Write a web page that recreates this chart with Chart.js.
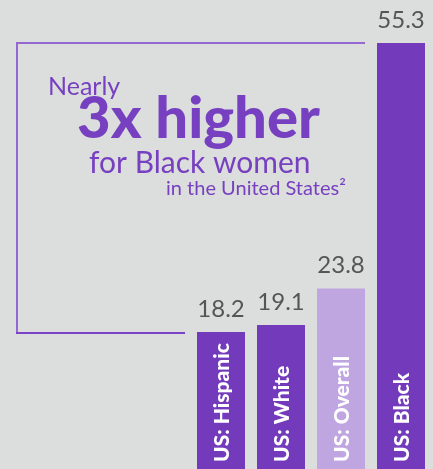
<!DOCTYPE html>
<html>
<head>
<meta charset="utf-8">
<script src="https://cdn.jsdelivr.net/npm/chart.js@4.4.1/dist/chart.umd.min.js"></script>
<style>
  html, body { margin: 0; padding: 0; background: #dcdedd; overflow: hidden; }
  #wrap { position: relative; width: 433px; height: 474px; }
</style>
</head>
<body>
<div id="wrap"><canvas id="chart" width="433" height="474"></canvas></div>
<script>
var categories = ["US: Hispanic", "US: White", "US: Overall", "US: Black"];
var rates = [18.2, 19.1, 23.8, 55.3];
var barColors = ["#733bbb", "#733bbb", "#c0a6e0", "#733bbb"];
var headline = ["Nearly", "3x higher", "for Black women", "in the United States\u00b2"];

var FONT = "Lato, 'Open Sans', sans-serif";

// frame + headline text behind the bars
var headlinePlugin = {
    id: "headline",
    beforeDatasetsDraw: function (chart) {
        var ctx = chart.ctx;
        ctx.save();
        ctx.lineWidth = 2;
        ctx.strokeStyle = "#9468d2";
        ctx.beginPath();
        ctx.moveTo(17, 333);
        ctx.lineTo(17, 43);
        ctx.lineTo(365, 43);
        ctx.stroke();
        ctx.strokeStyle = "#7b43c9";
        ctx.beginPath();
        ctx.moveTo(16, 333);
        ctx.lineTo(185, 333);
        ctx.stroke();

        ctx.fillStyle = "#7740c0";
        ctx.textAlign = "left";
        ctx.textBaseline = "alphabetic";
        ctx.font = "400 25px " + FONT;
        ctx.fillText(headline[0], 48, 95);
        ctx.font = "900 58px " + FONT;
        ctx.fillText(headline[1], 77, 138);
        ctx.font = "400 30px " + FONT;
        ctx.fillText(headline[2], 89, 173);
        ctx.font = "400 20px " + FONT;
        ctx.fillText(headline[3], 166, 195);
        ctx.restore();
    }
};

// value above each bar, category written up the bar
var barTextPlugin = {
    id: "barText",
    afterDatasetsDraw: function (chart) {
        var ctx = chart.ctx;
        var meta = chart.getDatasetMeta(0);
        ctx.save();
        meta.data.forEach(function (bar, i) {
            ctx.fillStyle = "#555555";
            ctx.font = "400 24px " + FONT;
            ctx.textAlign = "center";
            ctx.textBaseline = "alphabetic";
            ctx.fillText(rates[i].toFixed(1), bar.x, bar.y - 15);

            ctx.save();
            ctx.translate(bar.x + 1, 462);
            ctx.rotate(-Math.PI / 2);
            ctx.fillStyle = "#ffffff";
            ctx.font = "900 21px " + FONT;
            ctx.textAlign = "left";
            ctx.textBaseline = "middle";
            ctx.fillText(categories[i], 0, 0);
            ctx.restore();
        });
        ctx.restore();
    }
};

new Chart(document.getElementById("chart").getContext("2d"), {
    type: "bar",
    data: {
        labels: categories,
        datasets: [{
            data: rates,
            backgroundColor: barColors,
            borderWidth: 0,
            barPercentage: 0.8,
            categoryPercentage: 1
        }]
    },
    options: {
        responsive: false,
        animation: false,
        layout: { padding: { left: 191, right: 2, top: 0, bottom: 0 } },
        plugins: {
            legend: { display: false },
            tooltip: { enabled: false }
        },
        scales: {
            x: { display: false },
            y: { display: false, min: 0, max: 60.8 }
        }
    },
    plugins: [headlinePlugin, barTextPlugin]
});
</script>
</body>
</html>
